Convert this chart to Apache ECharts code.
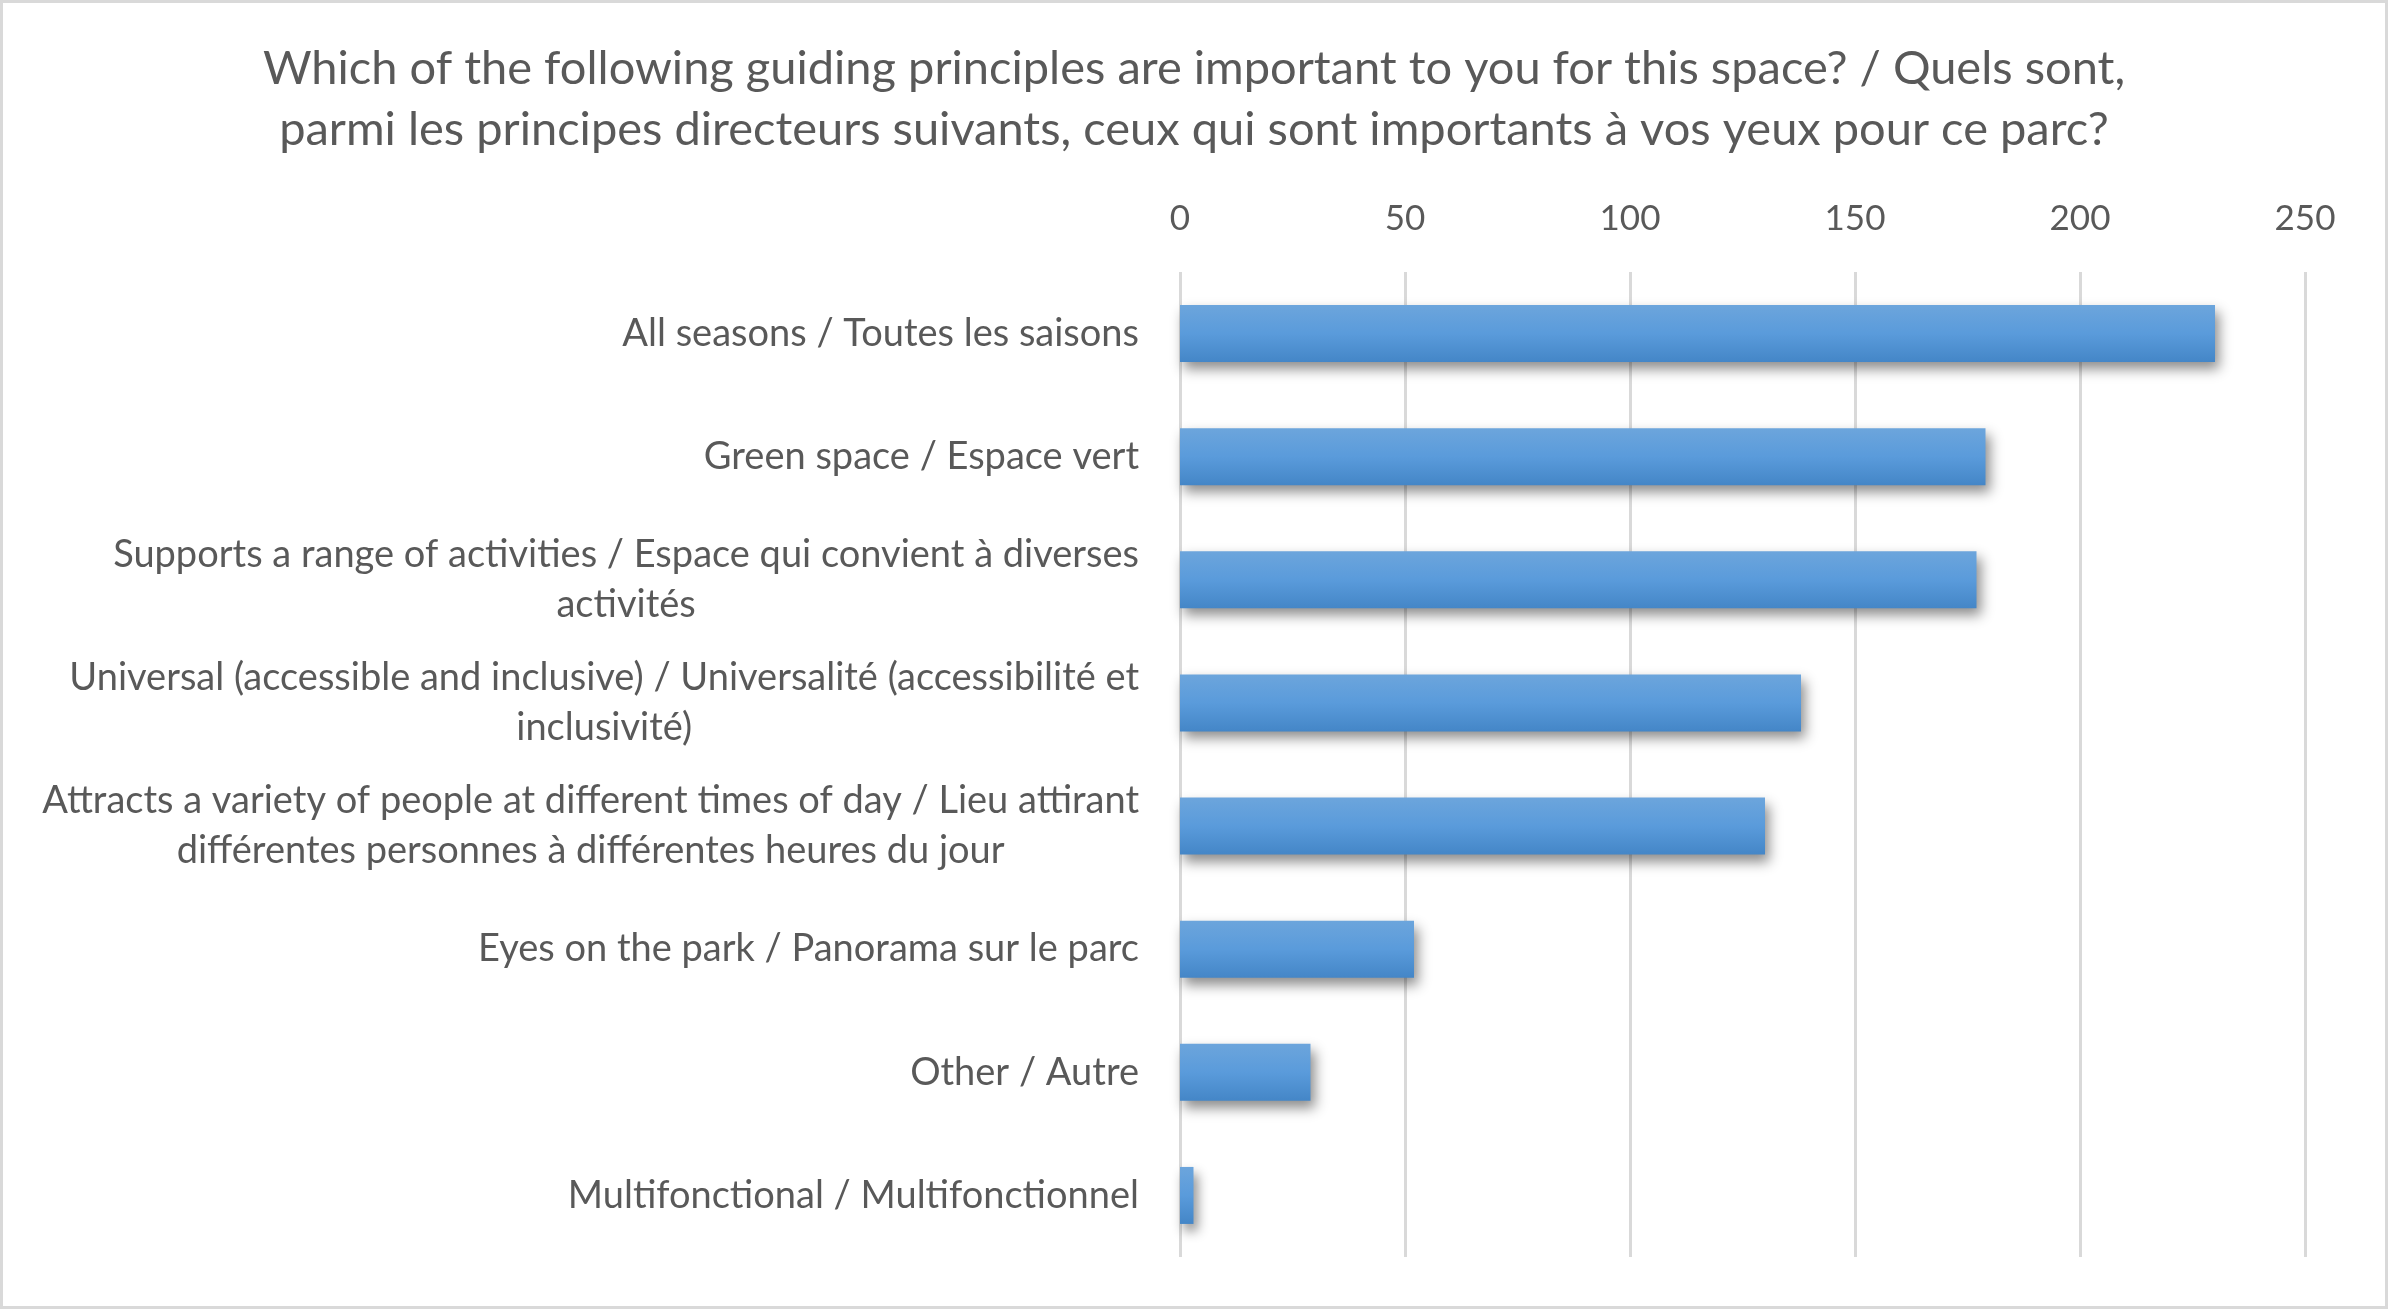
<!DOCTYPE html>
<html lang="en">
<head>
  <meta charset="UTF-8">
  <title>Guiding principles</title>
  <script type="text/javascript" src="https://cdn.jsdelivr.net/npm/echarts@6/dist/echarts.min.js"></script>
  <style>
    html, body { margin: 0; padding: 0; background: #fff; }
    #chart { width: 2388px; height: 1309px; }
  </style>
</head>
<body>
  <div id="chart"></div>
  <script type="text/javascript">
    // categories, top to bottom (line breaks as wrapped in the original)
    var categories = [
      'All seasons / Toutes les saisons',
      'Green space / Espace vert',
      'Supports a range of activities / Espace qui convient à diverses\nactivités',
      'Universal (accessible and inclusive) / Universalité (accessibilité et\ninclusivité)',
      'Attracts a variety of people at different times of day / Lieu attirant\ndifférentes personnes à différentes heures du jour',
      'Eyes on the park / Panorama sur le parc',
      'Other / Autre',
      'Multifonctional / Multifonctionnel'
    ];
    var counts = [230, 179, 177, 138, 130, 52, 29, 3];

    var titleText = 'Which of the following guiding principles are important to you for this space? / Quels sont,\n' +
      'parmi les principes directeurs suivants, ceux qui sont importants à vos yeux pour ce parc?';

    var font = 'Lato, "Open Sans", sans-serif';
    var textColor = '#595959';

    var myChart = echarts.init(document.getElementById('chart'), null, {
      width: 2388,
      height: 1309
    });

    var option = {
      backgroundColor: '#ffffff',
      animation: false,
      title: {
        text: titleText,
        left: 'center',
        top: 38,
        padding: 0,
        textStyle: {
          fontFamily: font,
          fontSize: 47,
          fontWeight: 'normal',
          lineHeight: 61,
          color: textColor,
          align: 'center'
        }
      },
      graphic: [{
        type: 'rect',
        shape: { x: 1.5, y: 1.5, width: 2385, height: 1306 },
        style: { fill: 'none', stroke: '#d9d9d9', lineWidth: 3 },
        silent: true
      }],
      grid: {
        left: 1180,
        right: 83,
        top: 272,
        bottom: 52,
        containLabel: false
      },
      xAxis: {
        type: 'value',
        position: 'top',
        min: 0,
        max: 250,
        interval: 50,
        axisLine: { show: false },
        axisTick: { show: false },
        axisLabel: {
          margin: 36,
          fontFamily: font,
          fontSize: 35,
          color: textColor
        },
        splitLine: {
          show: true,
          lineStyle: { color: '#d9d9d9', width: 3 }
        }
      },
      yAxis: {
        type: 'category',
        data: categories,
        inverse: true,
        axisLine: { show: false },
        axisTick: { show: false },
        axisLabel: {
          margin: 41,
          align: 'right',
          fontFamily: font,
          fontSize: 38,
          lineHeight: 50,
          color: textColor,
          formatter: function (value) {
            return value.split('\n').map(function (line) {
              return '{c|' + line + '}';
            }).join('\n');
          },
          rich: {
            c: {
              align: 'center',
              fontFamily: font,
              fontSize: 38,
              lineHeight: 50,
              color: textColor
            }
          }
        }
      },
      series: [{
        type: 'bar',
        data: counts,
        barWidth: 57,
        itemStyle: {
          color: new echarts.graphic.LinearGradient(0, 0, 0, 1, [
            { offset: 0, color: '#6ca5dc' },
            { offset: 0.5, color: '#5a9bdb' },
            { offset: 1, color: '#4486c7' }
          ]),
          shadowColor: 'rgba(0, 0, 0, 0.45)',
          shadowBlur: 12,
          shadowOffsetX: 4,
          shadowOffsetY: 7
        }
      }]
    };

    myChart.setOption(option);
  </script>
</body>
</html>
